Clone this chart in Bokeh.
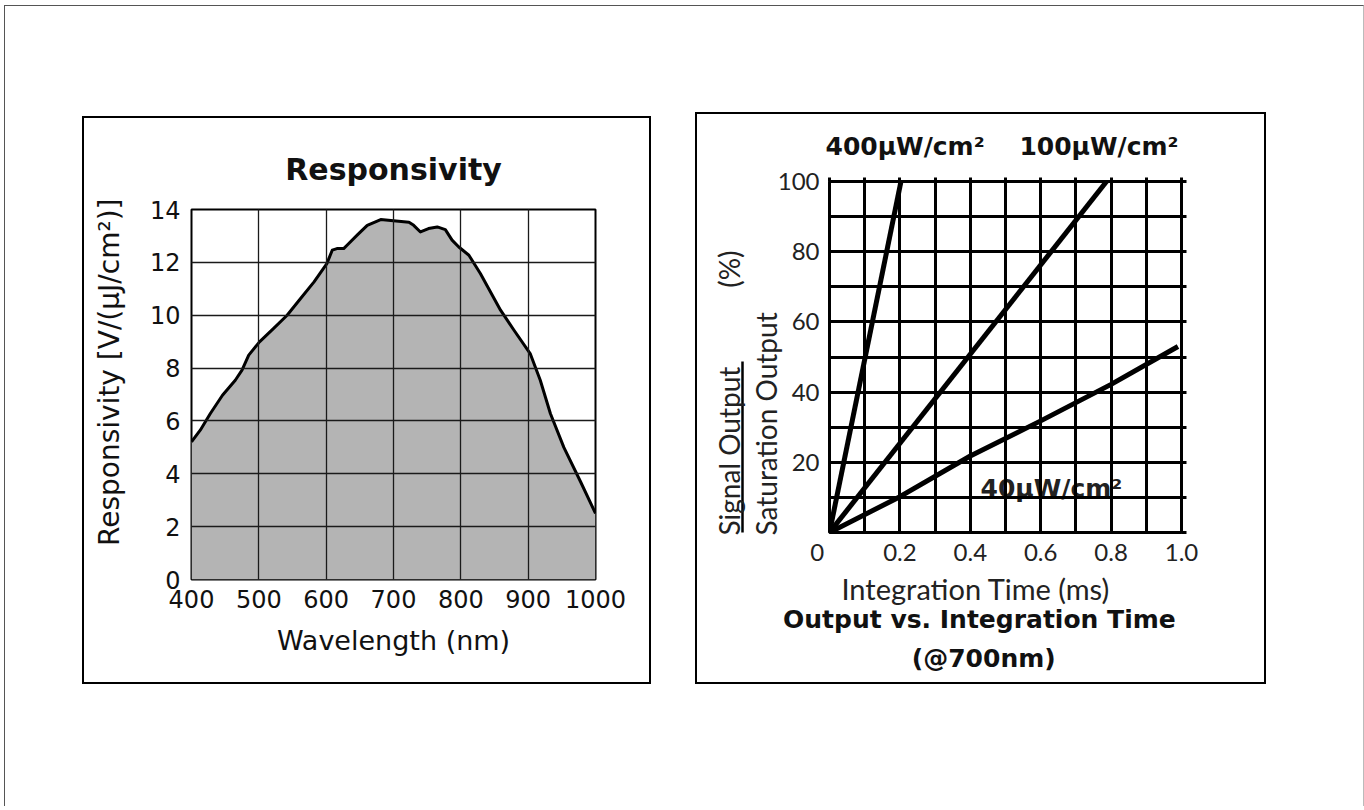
from bokeh.plotting import figure
from bokeh.models import Range1d, FixedTicker, Label, Spacer, LinearAxis, Title
from bokeh.layouts import row, column
from bokeh.embed import file_html
from bokeh.resources import INLINE

# ---------------- data: left panel (Responsivity) ----------------
wavelength = [400, 413, 428, 446, 465, 475, 485, 501, 522, 542, 562, 582, 601, 609,
              616, 626, 631, 646, 661, 681, 700, 723, 730, 740, 752, 765, 777, 787,
              797, 812, 829, 859, 879, 903, 918, 933, 953, 978, 1000]
responsivity = [5.21, 5.65, 6.28, 6.97, 7.54, 7.92, 8.49, 8.99, 9.5, 10.0, 10.63, 11.26,
                11.95, 12.46, 12.52, 12.52, 12.65, 13.03, 13.4, 13.62, 13.57, 13.52, 13.4,
                13.15, 13.28, 13.34, 13.24, 12.84, 12.58, 12.27, 11.58, 10.19, 9.43, 8.55,
                7.54, 6.28, 5.0, 3.69, 2.5]
wl_ticks = [400, 500, 600, 700, 800, 900, 1000]
resp_ticks = [0, 2, 4, 6, 8, 10, 12, 14]

# ---------------- data: right panel (Output vs Integration Time) ----------------
time_400 = [0.0, 0.203]
out_400 = [0, 100]
time_100 = [0.0, 0.787]
out_100 = [0, 100]
time_40 = [0.0, 0.2, 0.4, 0.6, 0.8, 0.99]
out_40 = [0, 10.2, 21.8, 31.8, 42.2, 53]
time_ticks = [0.0, 0.2, 0.4, 0.6, 0.8, 1.0]
time_tick_labels = ["0\u00a0\u00a0\u00a0\u00a0", "0.2", "0.4", "0.6", "0.8", "1.0"]
out_ticks = [20, 40, 60, 80, 100]
time_grid = [0.0, 0.1, 0.2, 0.3, 0.4, 0.5, 0.6, 0.7, 0.8, 0.9, 1.0]
out_grid = [0, 10, 20, 30, 40, 50, 60, 70, 80, 90, 100]

LF = "DejaVu Sans"
RF = "Lato"
RB = "DejaVu Sans"
NB = "\u00a0"

# ---------------- left figure ----------------
p1 = figure(width=569, height=568, x_range=Range1d(400, 1000), y_range=Range1d(0, 14),
            output_backend="svg", toolbar_location=None,
            min_border_left=107, min_border_right=58, min_border_top=91, min_border_bottom=107,
            background_fill_color="white", border_fill_color="white",
            styles={"border": "2px solid black"})
p1.outline_line_color = "black"
p1.outline_line_width = 2
p1.varea(x=wavelength, y1=0, y2=responsivity, fill_color="#b4b4b4")
p1.line(wavelength, responsivity, line_color="black", line_width=3, line_join="round")

for ax in (p1.xaxis[0], p1.yaxis[0]):
    ax.axis_line_color = None
    ax.major_tick_line_color = None
    ax.minor_tick_line_color = None
    ax.major_tick_out = 0
    ax.major_tick_in = 0
    ax.minor_tick_out = 0
    ax.minor_tick_in = 0
    ax.major_label_text_font = LF
    ax.major_label_text_font_size = "24px"
    ax.major_label_text_color = "#111111"
    ax.axis_label_text_font = LF
    ax.axis_label_text_font_style = "normal"
    ax.axis_label_text_color = "#111111"
p1.xaxis[0].ticker = FixedTicker(ticks=wl_ticks)
p1.yaxis[0].ticker = FixedTicker(ticks=resp_ticks)
p1.xaxis[0].major_label_standoff = 10
p1.yaxis[0].major_label_standoff = 11
p1.xaxis[0].axis_label = "Wavelength (nm)"
p1.xaxis[0].axis_label_text_font_size = "27px"
p1.xaxis[0].axis_label_standoff = 14
p1.yaxis[0].axis_label = NB * 5 + "Responsivity [V/(\u00b5J/cm\u00b2)]"
p1.yaxis[0].axis_label_text_font_size = "28px"
p1.yaxis[0].axis_label_standoff = 21
for g in (p1.xgrid[0], p1.ygrid[0]):
    g.grid_line_color = "#1a1a1a"
    g.grid_line_width = 1.3
    g.level = "overlay"

p1.add_layout(Title(text="Responsivity", align="center", text_font=LF, text_font_style="bold",
                    text_font_size="30px", text_color="#111111", standoff=46), "above")

# ---------------- right figure ----------------
p2 = figure(width=571, height=572, x_range=Range1d(0, 1), y_range=Range1d(0, 100),
            output_backend="svg", toolbar_location=None,
            min_border_left=132, min_border_right=87, min_border_top=67, min_border_bottom=152,
            background_fill_color="white", border_fill_color="white",
            styles={"border": "2px solid black"})
p2.outline_line_color = "black"
p2.outline_line_width = 3

p2.add_layout(Label(x=0.429, y=12.5, text="40\u00b5W/cm\u00b2", text_align="left",
                    text_baseline="alphabetic", text_font=RB, text_font_style="bold",
                    text_font_size="25px", text_color="#222222"))

p2.line(time_400, out_400, line_color="black", line_width=5)
p2.line(time_100, out_100, line_color="black", line_width=5)
p2.line(time_40, out_40, line_color="black", line_width=5)

for ax in (p2.xaxis[0], p2.yaxis[0]):
    ax.axis_line_color = None
    ax.major_tick_line_color = None
    ax.minor_tick_line_color = None
    ax.major_tick_out = 0
    ax.major_tick_in = 0
    ax.minor_tick_out = 0
    ax.minor_tick_in = 0
    ax.major_label_text_font = RF
    ax.major_label_text_font_size = "24px"
    ax.major_label_text_color = "#222222"
p2.xaxis[0].ticker = FixedTicker(ticks=time_ticks)
p2.xaxis[0].major_label_overrides = dict(zip(time_ticks, time_tick_labels))
p2.yaxis[0].ticker = FixedTicker(ticks=out_ticks)
p2.xaxis[0].major_label_standoff = 4
p2.yaxis[0].major_label_standoff = 10
p2.xaxis[0].axis_label = "Integration Time (ms)" + NB * 8
p2.xaxis[0].axis_label_text_font = RF
p2.xaxis[0].axis_label_text_font_size = "29px"
p2.xaxis[0].axis_label_text_font_style = "normal"
p2.xaxis[0].axis_label_text_color = "#222222"
p2.xaxis[0].axis_label_standoff = 2
p2.xgrid[0].ticker = FixedTicker(ticks=time_grid)
p2.ygrid[0].ticker = FixedTicker(ticks=out_grid)
for g in (p2.xgrid[0], p2.ygrid[0]):
    g.grid_line_color = "black"
    g.grid_line_width = 3
    g.level = "overlay"

# tick stubs beyond the right and top edges
ax_r = LinearAxis(ticker=FixedTicker(ticks=out_grid), axis_line_color=None,
                  major_tick_out=5, major_tick_in=0, major_tick_line_width=3,
                  major_tick_line_color="black", minor_tick_line_color=None,
                  minor_tick_out=0, major_label_text_color=None,
                  major_label_text_font_size="1px", major_label_standoff=0)
p2.add_layout(ax_r, "right")
ax_t = LinearAxis(ticker=FixedTicker(ticks=time_grid), axis_line_color=None,
                  major_tick_out=4, major_tick_in=0, major_tick_line_width=3,
                  major_tick_line_color="black", minor_tick_line_color=None,
                  minor_tick_out=0, major_label_text_color=None,
                  major_label_text_font_size="1px", major_label_standoff=0)
p2.add_layout(ax_t, "above")
p2.add_layout(Title(text="400\u00b5W/cm\u00b2" + NB * 4 + "100\u00b5W/cm\u00b2", align="left",
                    offset=-4, vertical_align="top", text_font=RB, text_font_style="bold",
                    text_font_size="25px", text_color="#111111", standoff=30), "above")

# y-axis fraction label, built from left-side titles and an underline axis
p2.add_layout(Title(text="Saturation Output", align="left", offset=-3, text_font=RF,
                    text_font_style="normal", text_font_size="28px", text_color="#222222",
                    standoff=-16), "left")
p2.add_layout(Title(text=NB, align="left", text_font=RF, text_font_style="normal",
                    text_font_size="2px", text_color="white", standoff=8), "left")
ax_ul = LinearAxis(ticker=FixedTicker(ticks=[]), bounds=(-0.85, 48.7), axis_line_color="black",
                   axis_line_width=2.5, major_tick_out=0, major_tick_in=0, minor_tick_out=0,
                   minor_tick_in=0, major_tick_line_color=None, minor_tick_line_color=None,
                   major_label_text_color=None, major_label_text_font_size="1px",
                   major_label_standoff=0)
p2.add_layout(ax_ul, "left")
p2.add_layout(Title(text="Signal Output" + NB * 11 + "(%)", align="left", offset=-3,
                    text_font=RF, text_font_style="normal", text_font_size="28px",
                    text_color="#222222", standoff=-6), "left")

# bold caption below
p2.add_layout(Title(text="Output vs. Integration Time" + NB * 6, align="center", text_font=RB,
                    text_font_style="bold", text_font_size="25px", text_color="#111111",
                    standoff=-12), "below")
p2.add_layout(Title(text="(@700nm)" + NB * 5, align="center", text_font=RB,
                    text_font_style="bold", text_font_size="25px", text_color="#111111",
                    standoff=28), "below")

# ---------------- page layout ----------------
left_col = column(Spacer(width=569, height=110), p1)
right_col = column(Spacer(width=571, height=106), p2)
inner = row(Spacer(width=77, height=800), left_col, Spacer(width=44, height=800), right_col,
            Spacer(width=97, height=800),
            styles={"border-left": "1px solid #555555", "border-top": "1px solid #555555",
                    "border-right": "1px solid #bbbbbb"})
page = column(Spacer(width=1364, height=5), row(Spacer(width=4, height=800), inner))

open("out.html", "w").write(file_html(page, INLINE))
